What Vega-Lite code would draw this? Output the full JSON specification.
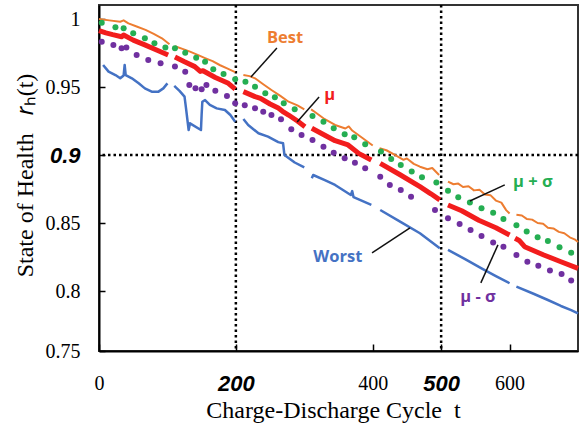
{
  "$schema": "https://vega.github.io/schema/vega-lite/v6.json",
  "width": 479,
  "height": 346,
  "autosize": {"type": "none"},
  "padding": {"left": 99, "top": 5, "right": 4, "bottom": 74},
  "background": "white",
  "config": {
    "view": {"stroke": "#333333", "strokeWidth": 2},
    "axis": {"grid": false, "domainColor": "black", "domainWidth": 2, "tickColor": "black", "tickWidth": 1.5, "labelColor": "black", "titleColor": "black"}
  },
  "datasets": {
    "lines": [
      {"s":"Best","g":0,"c":0,"v":1.0},{"s":"Best","g":0,"c":15,"v":0.999},{"s":"Best","g":0,"c":31,"v":0.998},{"s":"Best","g":0,"c":36,"v":0.999},{"s":"Best","g":0,"c":43,"v":0.9968},{"s":"Best","g":0,"c":55,"v":0.9945},{"s":"Best","g":0,"c":68,"v":0.992},{"s":"Best","g":0,"c":80,"v":0.989},{"s":"Best","g":0,"c":92,"v":0.9858},{"s":"Best","g":0,"c":103,"v":0.9815},
      {"s":"Best","g":1,"c":111,"v":0.98},{"s":"Best","g":1,"c":122,"v":0.978},{"s":"Best","g":1,"c":133,"v":0.976},{"s":"Best","g":1,"c":145,"v":0.9735},{"s":"Best","g":1,"c":155,"v":0.9713},{"s":"Best","g":1,"c":166,"v":0.969},{"s":"Best","g":1,"c":177,"v":0.966},{"s":"Best","g":1,"c":188,"v":0.9635},{"s":"Best","g":1,"c":199,"v":0.961},
      {"s":"Best","g":2,"c":211,"v":0.9588},{"s":"Best","g":2,"c":220,"v":0.958},{"s":"Best","g":2,"c":228,"v":0.9564},{"s":"Best","g":2,"c":240,"v":0.952},{"s":"Best","g":2,"c":252,"v":0.9478},{"s":"Best","g":2,"c":265,"v":0.9435},{"s":"Best","g":2,"c":277,"v":0.9392},{"s":"Best","g":2,"c":290,"v":0.9365},{"s":"Best","g":2,"c":300,"v":0.9335},
      {"s":"Best","g":3,"c":310,"v":0.9335},{"s":"Best","g":3,"c":313,"v":0.9325},{"s":"Best","g":3,"c":328,"v":0.927},{"s":"Best","g":3,"c":345,"v":0.9221},{"s":"Best","g":3,"c":360,"v":0.9195},{"s":"Best","g":3,"c":365,"v":0.921},{"s":"Best","g":3,"c":370,"v":0.918},{"s":"Best","g":3,"c":385,"v":0.9125},{"s":"Best","g":3,"c":400,"v":0.907},
      {"s":"Best","g":4,"c":410,"v":0.905},{"s":"Best","g":4,"c":420,"v":0.9035},{"s":"Best","g":4,"c":433,"v":0.9},{"s":"Best","g":4,"c":445,"v":0.8965},{"s":"Best","g":4,"c":450,"v":0.8975},{"s":"Best","g":4,"c":460,"v":0.8935},{"s":"Best","g":4,"c":469,"v":0.8914},{"s":"Best","g":4,"c":480,"v":0.8895},{"s":"Best","g":4,"c":487,"v":0.8905},{"s":"Best","g":4,"c":497,"v":0.8853},
      {"s":"Best","g":5,"c":510,"v":0.8805},{"s":"Best","g":5,"c":518,"v":0.8785},{"s":"Best","g":5,"c":525,"v":0.879},{"s":"Best","g":5,"c":532,"v":0.8765},{"s":"Best","g":5,"c":540,"v":0.877},{"s":"Best","g":5,"c":548,"v":0.874},{"s":"Best","g":5,"c":556,"v":0.8745},{"s":"Best","g":5,"c":564,"v":0.871},{"s":"Best","g":5,"c":572,"v":0.8705},{"s":"Best","g":5,"c":580,"v":0.8665},{"s":"Best","g":5,"c":588,"v":0.865},{"s":"Best","g":5,"c":595,"v":0.8595},{"s":"Best","g":5,"c":600,"v":0.857},
      {"s":"Best","g":6,"c":610,"v":0.856},{"s":"Best","g":6,"c":618,"v":0.8555},{"s":"Best","g":6,"c":625,"v":0.853},{"s":"Best","g":6,"c":633,"v":0.8525},{"s":"Best","g":6,"c":641,"v":0.85},{"s":"Best","g":6,"c":649,"v":0.8495},{"s":"Best","g":6,"c":656,"v":0.8465},{"s":"Best","g":6,"c":664,"v":0.846},{"s":"Best","g":6,"c":672,"v":0.8435},{"s":"Best","g":6,"c":680,"v":0.8425},{"s":"Best","g":6,"c":688,"v":0.8395},{"s":"Best","g":6,"c":695,"v":0.838},{"s":"Best","g":6,"c":700,"v":0.836},

      {"s":"μ","g":0,"c":0,"v":0.9915},{"s":"μ","g":0,"c":10,"v":0.9898},{"s":"μ","g":0,"c":20,"v":0.9885},{"s":"μ","g":0,"c":33,"v":0.987},{"s":"μ","g":0,"c":36,"v":0.9882},{"s":"μ","g":0,"c":50,"v":0.9845},{"s":"μ","g":0,"c":67,"v":0.981},{"s":"μ","g":0,"c":85,"v":0.977},{"s":"μ","g":0,"c":101,"v":0.9735},
      {"s":"μ","g":1,"c":111,"v":0.972},{"s":"μ","g":1,"c":125,"v":0.9685},{"s":"μ","g":1,"c":140,"v":0.965},{"s":"μ","g":1,"c":148,"v":0.9615},{"s":"μ","g":1,"c":152,"v":0.962},{"s":"μ","g":1,"c":170,"v":0.957},{"s":"μ","g":1,"c":189,"v":0.9527},{"s":"μ","g":1,"c":199,"v":0.9485},
      {"s":"μ","g":2,"c":211,"v":0.9466},{"s":"μ","g":2,"c":228,"v":0.9429},{"s":"μ","g":2,"c":236,"v":0.9417},{"s":"μ","g":2,"c":250,"v":0.9375},{"s":"μ","g":2,"c":262,"v":0.9345},{"s":"μ","g":2,"c":270,"v":0.9315},{"s":"μ","g":2,"c":277,"v":0.9294},{"s":"μ","g":2,"c":290,"v":0.925},{"s":"μ","g":2,"c":301,"v":0.9208},
      {"s":"μ","g":3,"c":311,"v":0.9197},{"s":"μ","g":3,"c":330,"v":0.9145},{"s":"μ","g":3,"c":345,"v":0.9105},{"s":"μ","g":3,"c":364,"v":0.9074},{"s":"μ","g":3,"c":380,"v":0.901},{"s":"μ","g":3,"c":398,"v":0.8963},
      {"s":"μ","g":4,"c":411,"v":0.8939},{"s":"μ","g":4,"c":440,"v":0.8855},{"s":"μ","g":4,"c":469,"v":0.8767},{"s":"μ","g":4,"c":485,"v":0.8715},{"s":"μ","g":4,"c":498,"v":0.867},
      {"s":"μ","g":5,"c":510,"v":0.8633},{"s":"μ","g":5,"c":530,"v":0.859},{"s":"μ","g":5,"c":555,"v":0.852},{"s":"μ","g":5,"c":580,"v":0.8465},{"s":"μ","g":5,"c":600,"v":0.8412},
      {"s":"μ","g":6,"c":608,"v":0.8388},{"s":"μ","g":6,"c":614,"v":0.8372},{"s":"μ","g":6,"c":622,"v":0.8326},{"s":"μ","g":6,"c":650,"v":0.8265},{"s":"μ","g":6,"c":675,"v":0.8215},{"s":"μ","g":6,"c":700,"v":0.8167},

      {"s":"Worst","g":0,"c":6,"v":0.9662},{"s":"Worst","g":0,"c":14,"v":0.9613},{"s":"Worst","g":0,"c":24,"v":0.9588},{"s":"Worst","g":0,"c":31,"v":0.9564},{"s":"Worst","g":0,"c":36,"v":0.9585},{"s":"Worst","g":0,"c":37.5,"v":0.9662},{"s":"Worst","g":0,"c":39,"v":0.9588},{"s":"Worst","g":0,"c":48,"v":0.9564},{"s":"Worst","g":0,"c":58,"v":0.9527},{"s":"Worst","g":0,"c":67,"v":0.949},{"s":"Worst","g":0,"c":77,"v":0.9466},{"s":"Worst","g":0,"c":87,"v":0.9466},{"s":"Worst","g":0,"c":94,"v":0.949},{"s":"Worst","g":0,"c":100,"v":0.9527},
      {"s":"Worst","g":1,"c":110,"v":0.9508},{"s":"Worst","g":1,"c":118,"v":0.947},{"s":"Worst","g":1,"c":125,"v":0.9429},{"s":"Worst","g":1,"c":127,"v":0.935},{"s":"Worst","g":1,"c":131,"v":0.9184},{"s":"Worst","g":1,"c":133,"v":0.9233},{"s":"Worst","g":1,"c":149,"v":0.9184},{"s":"Worst","g":1,"c":150,"v":0.93},{"s":"Worst","g":1,"c":151,"v":0.9392},{"s":"Worst","g":1,"c":155,"v":0.9404},{"s":"Worst","g":1,"c":162,"v":0.9368},{"s":"Worst","g":1,"c":172,"v":0.9343},{"s":"Worst","g":1,"c":184,"v":0.9331},{"s":"Worst","g":1,"c":192,"v":0.9294},{"s":"Worst","g":1,"c":199,"v":0.9245},
      {"s":"Worst","g":2,"c":211,"v":0.9265},{"s":"Worst","g":2,"c":218,"v":0.9221},{"s":"Worst","g":2,"c":233,"v":0.916},{"s":"Worst","g":2,"c":247,"v":0.9135},{"s":"Worst","g":2,"c":262,"v":0.9095},{"s":"Worst","g":2,"c":269,"v":0.9086},{"s":"Worst","g":2,"c":271,"v":0.9},{"s":"Worst","g":2,"c":286,"v":0.8945},{"s":"Worst","g":2,"c":300,"v":0.891},
      {"s":"Worst","g":3,"c":311,"v":0.8829},{"s":"Worst","g":3,"c":313,"v":0.8853},{"s":"Worst","g":3,"c":330,"v":0.8815},{"s":"Worst","g":3,"c":345,"v":0.878},{"s":"Worst","g":3,"c":368,"v":0.8706},{"s":"Worst","g":3,"c":370,"v":0.8735},{"s":"Worst","g":3,"c":372,"v":0.869},{"s":"Worst","g":3,"c":398,"v":0.8633},
      {"s":"Worst","g":4,"c":411,"v":0.8596},{"s":"Worst","g":4,"c":440,"v":0.851},{"s":"Worst","g":4,"c":469,"v":0.8425},{"s":"Worst","g":4,"c":498,"v":0.8314},
      {"s":"Worst","g":5,"c":510,"v":0.8302},{"s":"Worst","g":5,"c":535,"v":0.8235},{"s":"Worst","g":5,"c":559,"v":0.8167},{"s":"Worst","g":5,"c":580,"v":0.811},{"s":"Worst","g":5,"c":600,"v":0.8057},
      {"s":"Worst","g":6,"c":610,"v":0.8032},{"s":"Worst","g":6,"c":635,"v":0.798},{"s":"Worst","g":6,"c":656,"v":0.7934},{"s":"Worst","g":6,"c":675,"v":0.789},{"s":"Worst","g":6,"c":690,"v":0.786},{"s":"Worst","g":6,"c":700,"v":0.7836}
    ],
    "dots": [
      {"s":"μ + σ","c":4,"v":0.9973},{"s":"μ + σ","c":24,"v":0.9939},{"s":"μ + σ","c":36,"v":0.9932},{"s":"μ + σ","c":50,"v":0.9895},{"s":"μ + σ","c":67,"v":0.9858},{"s":"μ + σ","c":81,"v":0.9821},{"s":"μ + σ","c":97,"v":0.979},{"s":"μ + σ","c":111,"v":0.9785},{"s":"μ + σ","c":126,"v":0.9752},{"s":"μ + σ","c":142,"v":0.9716},{"s":"μ + σ","c":155,"v":0.9686},{"s":"μ + σ","c":167,"v":0.963},{"s":"μ + σ","c":182,"v":0.9596},{"s":"μ + σ","c":199,"v":0.9557},{"s":"μ + σ","c":214,"v":0.9539},{"s":"μ + σ","c":228,"v":0.9502},{"s":"μ + σ","c":243,"v":0.9454},{"s":"μ + σ","c":257,"v":0.9424},{"s":"μ + σ","c":270,"v":0.938},{"s":"μ + σ","c":286,"v":0.9336},{"s":"μ + σ","c":312,"v":0.9287},{"s":"μ + σ","c":328,"v":0.9245},{"s":"μ + σ","c":343,"v":0.9197},{"s":"μ + σ","c":359,"v":0.9152},{"s":"μ + σ","c":373,"v":0.913},{"s":"μ + σ","c":389,"v":0.9079},{"s":"μ + σ","c":412,"v":0.9025},{"s":"μ + σ","c":427,"v":0.897},{"s":"μ + σ","c":441,"v":0.8927},{"s":"μ + σ","c":457,"v":0.8878},{"s":"μ + σ","c":472,"v":0.8837},{"s":"μ + σ","c":493,"v":0.8797},{"s":"μ + σ","c":510,"v":0.8738},{"s":"μ + σ","c":525,"v":0.869},{"s":"μ + σ","c":542,"v":0.865},{"s":"μ + σ","c":559,"v":0.8609},{"s":"μ + σ","c":576,"v":0.8576},{"s":"μ + σ","c":591,"v":0.853},{"s":"μ + σ","c":610,"v":0.8484},{"s":"μ + σ","c":625,"v":0.8437},{"s":"μ + σ","c":641,"v":0.8395},{"s":"μ + σ","c":656,"v":0.8368},{"s":"μ + σ","c":673,"v":0.8322},{"s":"μ + σ","c":690,"v":0.8282},
      {"s":"μ - σ","c":4,"v":0.9833},{"s":"μ - σ","c":21,"v":0.9809},{"s":"μ - σ","c":33,"v":0.9785},{"s":"μ - σ","c":40,"v":0.979},{"s":"μ - σ","c":55,"v":0.9735},{"s":"μ - σ","c":72,"v":0.9699},{"s":"μ - σ","c":90,"v":0.9674},{"s":"μ - σ","c":111,"v":0.965},{"s":"μ - σ","c":126,"v":0.9613},{"s":"μ - σ","c":132,"v":0.9515},{"s":"μ - σ","c":141,"v":0.949},{"s":"μ - σ","c":150,"v":0.9483},{"s":"μ - σ","c":157,"v":0.9515},{"s":"μ - σ","c":170,"v":0.9473},{"s":"μ - σ","c":187,"v":0.9434},{"s":"μ - σ","c":199,"v":0.938},{"s":"μ - σ","c":213,"v":0.9365},{"s":"μ - σ","c":228,"v":0.9343},{"s":"μ - σ","c":240,"v":0.9319},{"s":"μ - σ","c":252,"v":0.9294},{"s":"μ - σ","c":266,"v":0.9263},{"s":"μ - σ","c":281,"v":0.919},{"s":"μ - σ","c":296,"v":0.9147},{"s":"μ - σ","c":312,"v":0.911},{"s":"μ - σ","c":328,"v":0.9061},{"s":"μ - σ","c":343,"v":0.9017},{"s":"μ - σ","c":359,"v":0.8976},{"s":"μ - σ","c":374,"v":0.8944},{"s":"μ - σ","c":389,"v":0.8903},{"s":"μ - σ","c":411,"v":0.8841},{"s":"μ - σ","c":425,"v":0.878},{"s":"μ - σ","c":441,"v":0.8743},{"s":"μ - σ","c":456,"v":0.8694},{"s":"μ - σ","c":491,"v":0.8596},{"s":"μ - σ","c":510,"v":0.8535},{"s":"μ - σ","c":527,"v":0.8493},{"s":"μ - σ","c":543,"v":0.8449},{"s":"μ - σ","c":559,"v":0.8405},{"s":"μ - σ","c":576,"v":0.8356},{"s":"μ - σ","c":591,"v":0.8326},{"s":"μ - σ","c":610,"v":0.8265},{"s":"μ - σ","c":626,"v":0.8216},{"s":"μ - σ","c":642,"v":0.8185},{"s":"μ - σ","c":659,"v":0.815},{"s":"μ - σ","c":676,"v":0.8126},{"s":"μ - σ","c":690,"v":0.8077}
    ],
    "labels": [
      {"s":"Best","c":272,"v":0.986},
      {"s":"μ","c":337,"v":0.944},
      {"s":"μ + σ","c":634,"v":0.88},
      {"s":"μ - σ","c":554,"v":0.7957},
      {"s":"Worst","c":349,"v":0.825}
    ],
    "leaders": [
      {"c":260,"v":0.9787,"c2":222,"v2":0.9574},
      {"c":321.6,"v":0.9427,"c2":289.5,"v2":0.9243},
      {"c":593,"v":0.878,"c2":542,"v2":0.8662},
      {"c":583,"v":0.8339,"c2":558,"v2":0.806},
      {"c":399,"v":0.828,"c2":454.5,"v2":0.8464}
    ],
    "vrefs": [{"c":200},{"c":500}],
    "hrefs": [{"v":0.9}]
  },
  "layer": [
    {
      "data": {"name": "hrefs"},
      "mark": {"type": "rule", "color": "black", "strokeWidth": 2.5, "strokeDash": [2.5, 3]},
      "encoding": {
        "y": {"field": "v", "type": "quantitative", "scale": {"domain": [0.7559, 1.0103], "nice": false, "zero": false},
          "axis": {
            "values": [0.7559, 0.8, 0.85, 0.9, 0.95, 1],
            "labelExpr": "datum.value < 0.77 ? '0.75' : format(datum.value, '.2~f')",
            "labelFont": {"condition": {"test": "abs(datum.value - 0.9) < 0.001", "value": "Liberation Sans"}, "value": "Liberation Serif"},
            "labelFontSize": {"condition": {"test": "abs(datum.value - 0.9) < 0.001", "value": 22}, "value": 20},
            "labelFontWeight": {"condition": {"test": "abs(datum.value - 0.9) < 0.001", "value": "bold"}, "value": "normal"},
            "labelFontStyle": {"condition": {"test": "abs(datum.value - 0.9) < 0.001", "value": "italic"}, "value": "normal"},
            "tickSize": -6,
            "labelPadding": 25,
            "labelBaseline": "middle",
            "labelAlign": "right",
            "labelOverlap": false,
            "labelFlush": false,
            "title": "State of Health\u00a0\u00a0\u00a0𝑟ₕ(t)",
            "titleFont": "Liberation Serif",
            "titleFontSize": 24,
            "titleFontWeight": "normal",
            "titleAngle": -90,
            "titleX": -74,
            "titleY": 170,
            "titleBaseline": "middle",
            "titleAlign": "center"
          }
        }
      }
    },
    {
      "data": {"name": "vrefs"},
      "mark": {"type": "rule", "color": "black", "strokeWidth": 2.5, "strokeDash": [2.5, 3]},
      "encoding": {
        "x": {"field": "c", "type": "quantitative", "scale": {"domain": [0, 700], "nice": false, "zero": false},
          "axis": {
            "values": [0, 200, 400, 500, 600],
            "format": "d",
            "labelFont": {"condition": {"test": "datum.value == 200 || datum.value == 500", "value": "Liberation Sans"}, "value": "Liberation Serif"},
            "labelFontSize": {"condition": {"test": "datum.value == 200 || datum.value == 500", "value": 22}, "value": 20},
            "labelFontWeight": {"condition": {"test": "datum.value == 200 || datum.value == 500", "value": "bold"}, "value": "normal"},
            "labelFontStyle": {"condition": {"test": "datum.value == 200 || datum.value == 500", "value": "italic"}, "value": "normal"},
            "tickSize": -7,
            "labelPadding": 29,
            "labelBaseline": "top",
            "labelOverlap": false,
            "labelFlush": false,
            "title": "Charge-Discharge Cycle\u00a0\u00a0t",
            "titleFont": "Liberation Serif",
            "titleFontSize": 24,
            "titleFontWeight": "normal",
            "titleX": 234,
            "titleY": 66,
            "titleBaseline": "alphabetic",
            "titleAlign": "center"
          }
        }
      }
    },
    {
      "data": {"name": "lines"},
      "transform": [{"filter": "datum.s == 'Best'"}],
      "mark": {"type": "line", "strokeWidth": 2, "strokeJoin": "round"},
      "encoding": {
        "x": {"field": "c", "type": "quantitative", "scale": {"domain": [0, 700], "nice": false, "zero": false}},
        "y": {"field": "v", "type": "quantitative", "scale": {"domain": [0.7559, 1.0103], "nice": false, "zero": false}},
        "detail": {"field": "g"},
        "color": {"field": "s", "type": "nominal", "scale": {"domain": ["Best", "μ", "μ + σ", "μ - σ", "Worst"], "range": ["#ED7D31", "#F21D1D", "#25AE52", "#7030A0", "#4472C4"]}, "legend": null}
      }
    },
    {
      "data": {"name": "lines"},
      "transform": [{"filter": "datum.s == 'Worst'"}],
      "mark": {"type": "line", "strokeWidth": 2.5, "strokeJoin": "round"},
      "encoding": {
        "x": {"field": "c", "type": "quantitative", "scale": {"domain": [0, 700], "nice": false, "zero": false}},
        "y": {"field": "v", "type": "quantitative", "scale": {"domain": [0.7559, 1.0103], "nice": false, "zero": false}},
        "detail": {"field": "g"},
        "color": {"field": "s", "type": "nominal", "legend": null}
      }
    },
    {
      "data": {"name": "dots"},
      "mark": {"type": "circle", "size": 36, "opacity": 1},
      "encoding": {
        "x": {"field": "c", "type": "quantitative", "scale": {"domain": [0, 700], "nice": false, "zero": false}},
        "y": {"field": "v", "type": "quantitative", "scale": {"domain": [0.7559, 1.0103], "nice": false, "zero": false}},
        "color": {"field": "s", "type": "nominal", "legend": null}
      }
    },
    {
      "data": {"name": "lines"},
      "transform": [{"filter": "datum.s == 'μ'"}],
      "mark": {"type": "line", "strokeWidth": 5, "strokeJoin": "round"},
      "encoding": {
        "x": {"field": "c", "type": "quantitative", "scale": {"domain": [0, 700], "nice": false, "zero": false}},
        "y": {"field": "v", "type": "quantitative", "scale": {"domain": [0.7559, 1.0103], "nice": false, "zero": false}},
        "detail": {"field": "g"},
        "color": {"field": "s", "type": "nominal", "legend": null}
      }
    },
    {
      "data": {"name": "leaders"},
      "mark": {"type": "rule", "color": "#111111", "strokeWidth": 1.5},
      "encoding": {
        "x": {"field": "c", "type": "quantitative", "scale": {"domain": [0, 700], "nice": false, "zero": false}},
        "y": {"field": "v", "type": "quantitative", "scale": {"domain": [0.7559, 1.0103], "nice": false, "zero": false}},
        "x2": {"field": "c2"},
        "y2": {"field": "v2"}
      }
    },
    {
      "data": {"name": "labels"},
      "mark": {"type": "text", "font": "Open Sans", "fontWeight": "bold", "fontSize": 16.5, "align": "center", "baseline": "middle"},
      "encoding": {
        "x": {"field": "c", "type": "quantitative", "scale": {"domain": [0, 700], "nice": false, "zero": false}},
        "y": {"field": "v", "type": "quantitative", "scale": {"domain": [0.7559, 1.0103], "nice": false, "zero": false}},
        "text": {"field": "s"},
        "color": {"field": "s", "type": "nominal", "legend": null}
      }
    }
  ]
}
